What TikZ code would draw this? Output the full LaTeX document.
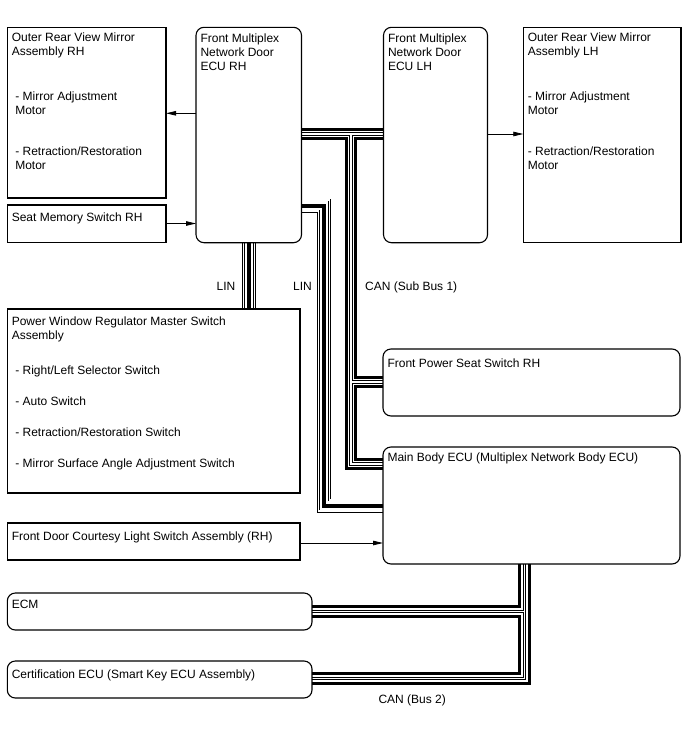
\documentclass[tikz,border=0pt]{standalone}
\usepackage{fontspec}
\setmainfont{Liberation Sans}
\usetikzlibrary{arrows.meta}
\pgfdeclarelayer{bg}
\pgfsetlayers{bg,main}
\newcommand{\bxt}[4]{\parbox[t][#2pt][t]{#1pt}{\vspace*{#4pt}#3}}
\newcommand{\ind}{\hspace*{3.5pt}}
\newcommand{\canlayers}[1]{%
  \draw[line width=12.4pt,black] #1;
  \draw[line width=6.8pt,white] #1;
  \draw[line width=3.8pt,black] #1;
  \draw[line width=1.9pt,white] #1;}
\newcommand{\linlayers}[1]{%
  \draw[line width=14pt,black] #1;
  \draw[line width=12.4pt,white] #1;
  \draw[line width=9.6pt,black] #1;
  \draw[line width=8.2pt,white] #1;
  \draw[line width=4pt,black] #1;}
\tikzset{
  sq/.style={draw, line width=1.1pt, rectangle, anchor=north west, inner xsep=4.5pt, inner ysep=5.5pt, outer sep=0pt},
  rd/.style={sq, rounded corners=8pt},
  arr/.style={line width=0.8pt, -{Triangle[length=10pt,width=4.5pt]}},
  lbl/.style={anchor=base west, inner sep=0pt},
}
\begin{document}
\begin{tikzpicture}[x=1pt, y=-1pt, font=\fontsize{12}{14}\selectfont]
\useasboundingbox (0,0) rectangle (688,755);

% boxes
\node[sq] (mirrorrh) at (7.3,27.3) {\bxt{149.7}{159.7}{Outer Rear View Mirror\\Assembly RH\\[31pt]\ind- Mirror Adjustment\\\ind Motor\\[27.5pt]\ind- Retraction/Restoration\\\ind Motor}{0}};
\node[sq] (seatmem) at (7.3,205) {\bxt{149.7}{26.7}{Seat Memory Switch RH}{2}};
\node[rd] (ecurh) at (196,27.3) {\bxt{96.5}{204.4}{Front Multiplex\\Network Door\\ECU RH}{1}};
\node[rd] (eculh) at (383.5,27.3) {\bxt{95}{204.4}{Front Multiplex\\Network Door\\ECU LH}{1}};
\node[sq] (mirrorlh) at (523.3,27.3) {\bxt{148.7}{204.4}{Outer Rear View Mirror\\Assembly LH\\[31pt]- Mirror Adjustment\\Motor\\[27.5pt]- Retraction/Restoration\\Motor}{0}};
\node[sq] (pwr) at (7.3,309) {\bxt{283.7}{173}{Power Window Regulator Master Switch\\Assembly\\[21pt]\ind- Right/Left Selector Switch\\[17pt]\ind- Auto Switch\\[17pt]\ind- Retraction/Restoration Switch\\[17pt]\ind- Mirror Surface Angle Adjustment Switch}{2}};
\node[rd] (pseat) at (383,349) {\bxt{288}{56}{Front Power Seat Switch RH}{4}};
\node[rd] (mainbody) at (383,447) {\bxt{288}{106}{Main Body ECU (Multiplex Network Body ECU)}{0}};
\node[sq] (courtesy) at (7.3,523) {\bxt{283.7}{26}{Front Door Courtesy Light Switch Assembly (RH)}{3}};
\node[rd] (ecm) at (7.3,593) {\bxt{295.7}{26}{ECM}{2}};
\node[rd] (cert) at (7.3,661) {\bxt{295.7}{26}{Certification ECU (Smart Key ECU Assembly)}{3}};

% helper coordinates
\coordinate (a1) at (0,113.3);
\coordinate (a2) at (0,223.5);
\coordinate (a3) at (0,134);
\coordinate (a4) at (0,543);
\coordinate (j1) at (351,134);
\coordinate (j2) at (351,382);
\coordinate (j3) at (351,464);
\coordinate (l0) at (249,0);
\coordinate (l1) at (323.7,205.5);
\coordinate (l2) at (323.7,505.5);
\coordinate (k1) at (524.5,611.5);
\coordinate (k2) at (524.5,678.5);

% arrows
\draw[arr] (ecurh.west |- a1) -- (mirrorrh.east |- a1);
\draw[arr] (seatmem.east |- a2) -- (ecurh.west |- a2);
\draw[arr] (eculh.east |- a3) -- (mirrorlh.west |- a3);
\draw[arr] (courtesy.east |- a4) -- (mainbody.west |- a4);

% buses
\begin{pgfonlayer}{bg}
\fill[white] (0,0) rectangle (688,755);
\linlayers{(ecurh.south -| l0) -- (pwr.north -| l0)}
\linlayers{(ecurh.east |- l1) -- (l1) -- (l2) -- (mainbody.west |- l2)}
\canlayers{(ecurh.east |- j1) -- (eculh.west |- j1) (j1) -- (j3) -- (mainbody.west |- j3) (j2) -- (pseat.west |- j2)}
\canlayers{(mainbody.south -| k1) -- (k2) -- (cert.east |- k2) (k1) -- (ecm.east |- k1)}
\end{pgfonlayer}

% labels
\node[lbl] (linl) at (216.5,290.7) {LIN};
\node[lbl] (linr) at (293,290.7) {LIN};
\node[lbl] (cansub) at (365,290.7) {CAN (Sub Bus 1)};
\node[lbl] (canb2) at (378.3,703) {CAN (Bus 2)};
\end{tikzpicture}
\end{document}
